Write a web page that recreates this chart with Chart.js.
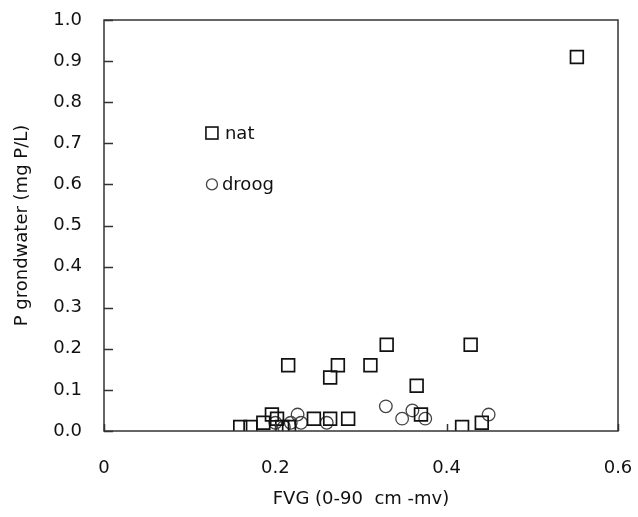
<!DOCTYPE html>
<html lang="nl">
<head>
    <meta charset="UTF-8">
    <title>P grondwater vs FVG</title>
    <script src="https://cdn.jsdelivr.net/npm/chart.js"></script>
    <style>
        html, body {
            margin: 0;
            padding: 0;
            background: white;
            overflow: hidden;
        }
        #wrap {
            width: 638px;
            height: 517px;
        }
    </style>
</head>
<body>
    <div id="wrap"><canvas id="fvgChart" width="638" height="517"></canvas></div>
    <script>
        // Data
        const natX = [0.159, 0.171, 0.186, 0.196, 0.202, 0.208, 0.216, 0.215, 0.245, 0.264, 0.264,
                      0.273, 0.285, 0.311, 0.330, 0.365, 0.370, 0.418, 0.428, 0.441, 0.552];
        const natY = [0.01, 0.01, 0.02, 0.04, 0.03, 0.01, 0.01, 0.16, 0.03, 0.03, 0.13,
                      0.16, 0.03, 0.16, 0.21, 0.11, 0.04, 0.01, 0.21, 0.02, 0.91];
        const droogX = [0.200, 0.210, 0.218, 0.226, 0.230, 0.260, 0.329, 0.348, 0.360, 0.375, 0.449];
        const droogY = [0.02, 0.01, 0.02, 0.04, 0.02, 0.02, 0.06, 0.03, 0.05, 0.03, 0.04];
        const seriesLabels = ['nat', 'droog'];
        const xTicks = [0, 0.2, 0.4, 0.6];
        const yTicks = [0, 0.1, 0.2, 0.3, 0.4, 0.5, 0.6, 0.7, 0.8, 0.9, 1.0];

        const FONT = 'DejaVu Sans';
        const FS = 18;
        const INK = '#111';

        const toPoints = (xs, ys) => xs.map((x, i) => ({ x: x, y: ys[i] }));

        // box, inward tick marks and the in-plot legend
        const frame = {
            id: 'frame',
            afterDraw(chart) {
                const { ctx, chartArea: a, scales } = chart;
                ctx.save();
                ctx.strokeStyle = '#333';
                ctx.lineWidth = 1.5;
                ctx.beginPath();
                yTicks.forEach(v => {
                    const y = Math.round(scales.y.getPixelForValue(v)) + 0.5;
                    ctx.moveTo(a.left, y);
                    ctx.lineTo(a.left + 9, y);
                });
                xTicks.forEach(v => {
                    const x = Math.round(scales.x.getPixelForValue(v)) + 0.5;
                    ctx.moveTo(x, a.bottom);
                    ctx.lineTo(x, a.bottom - 7);
                });
                ctx.stroke();
                ctx.strokeRect(a.left, a.top, a.right - a.left, a.bottom - a.top);

                // legend
                const lx = scales.x.getPixelForValue(0.126);
                const rows = [scales.y.getPixelForValue(0.725), scales.y.getPixelForValue(0.60)];
                ctx.lineWidth = 1.6;
                ctx.strokeStyle = '#111';
                ctx.strokeRect(lx - 6, rows[0] - 6, 12, 12);
                ctx.lineWidth = 1.3;
                ctx.strokeStyle = '#444';
                ctx.beginPath();
                ctx.arc(lx, rows[1], 5.5, 0, Math.PI * 2);
                ctx.stroke();
                ctx.fillStyle = INK;
                ctx.font = FS + 'px "' + FONT + '"';
                ctx.textBaseline = 'middle';
                ctx.fillText(seriesLabels[0], lx + 13, rows[0] + 1);
                ctx.fillText(seriesLabels[1], lx + 10, rows[1] + 1);
                ctx.restore();
            }
        };

        new Chart(document.getElementById('fvgChart'), {
            type: 'scatter',
            data: {
                datasets: [{
                    label: seriesLabels[0],
                    data: toPoints(natX, natY),
                    pointStyle: 'rect',
                    pointRadius: 9,
                    borderColor: '#111',
                    borderWidth: 1.7,
                    backgroundColor: 'rgba(0,0,0,0)'
                }, {
                    label: seriesLabels[1],
                    data: toPoints(droogX, droogY),
                    pointStyle: 'circle',
                    pointRadius: 6.3,
                    borderColor: '#444',
                    borderWidth: 1.3,
                    backgroundColor: 'rgba(0,0,0,0)'
                }]
            },
            options: {
                responsive: false,
                animation: false,
                layout: { padding: { top: 20, right: 20, left: 0, bottom: 0 } },
                plugins: {
                    legend: { display: false },
                    tooltip: { enabled: false }
                },
                scales: {
                    x: {
                        type: 'linear',
                        min: 0,
                        max: 0.6,
                        afterBuildTicks: s => { s.ticks = xTicks.map(v => ({ value: v })); },
                        afterFit: s => { s.height = 86; s.paddingLeft = 0; s.paddingRight = 0; },
                        grid: { display: false },
                        border: { display: false },
                        ticks: {
                            padding: 19,
                            maxRotation: 0,
                            color: INK,
                            font: { family: FONT, size: FS },
                            callback: v => v === 0 ? '0' : v.toFixed(1)
                        },
                        title: {
                            display: true,
                            text: 'FVG (0-90  cm -mv)',
                            color: INK,
                            font: { family: FONT, size: FS },
                            padding: { top: 4, bottom: 7 }
                        }
                    },
                    y: {
                        type: 'linear',
                        min: 0,
                        max: 1,
                        afterBuildTicks: s => { s.ticks = yTicks.map(v => ({ value: v })); },
                        afterFit: s => { s.width = 104; s.paddingTop = 0; s.paddingBottom = 0; },
                        grid: { display: false },
                        border: { display: false },
                        ticks: {
                            padding: 14,
                            color: INK,
                            font: { family: FONT, size: FS },
                            callback: v => v.toFixed(1)
                        },
                        title: {
                            display: true,
                            text: 'P grondwater (mg P/L)',
                            color: INK,
                            font: { family: FONT, size: FS },
                            padding: { top: 12, bottom: 0 }
                        }
                    }
                }
            },
            plugins: [frame]
        });
    </script>
</body>
</html>
